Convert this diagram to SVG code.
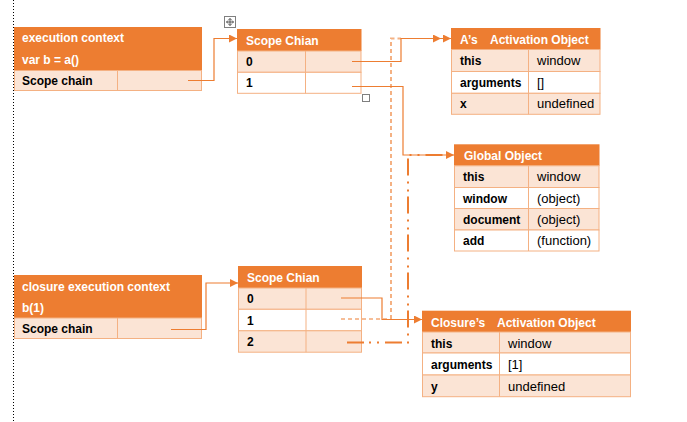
<svg xmlns="http://www.w3.org/2000/svg" width="687" height="422" viewBox="0 0 687 422">
<defs>
<marker id="arr" markerUnits="userSpaceOnUse" markerWidth="9" markerHeight="8" refX="8" refY="4" orient="auto">
<path d="M0,0 L8,4 L0,8 z" fill="#ED7D31"/>
</marker>
<style>
text{font-family:"Liberation Sans",Arial,sans-serif;}
.hd{fill:#ED7D31;}
.pl{fill:#FBE4D5;stroke:#F4B183;stroke-width:1;}
.wh{fill:#FFFFFF;stroke:#F4B183;stroke-width:1;}
.dv{stroke:#F4B183;stroke-width:1;}
.h{fill:#FFFFFF;font-weight:bold;font-size:12px;}
.k{fill:#000000;font-weight:bold;font-size:12px;}
.v{fill:#000000;font-size:13px;}
.c{fill:none;stroke:#ED7D31;stroke-width:1.2;}
</style>
</defs>
<rect width="687" height="422" fill="#FFFFFF"/>
<line x1="13.5" y1="0" x2="13.5" y2="422" stroke="#000" stroke-width="1" stroke-dasharray="1 2"/>

<!-- Word table handles -->
<g id="handles" fill="none" stroke="#7F7F7F" stroke-width="1">
<rect x="224.5" y="16.5" width="11" height="11" fill="#FFFFFF"/>
<path d="M230,18.5 V25.5 M226.5,22 H233.5 M228.5,20 L230,18.5 L231.5,20 M228.5,24 L230,25.5 L231.5,24 M228,20.5 L226.5,22 L228,23.5 M232,20.5 L233.5,22 L232,23.5" stroke="#555"/>
<rect x="362.5" y="94.5" width="7" height="7" fill="#FFFFFF"/>
</g>

<g id="exec-context">
<rect class="hd" x="14" y="27" width="188" height="43"/>
<rect class="pl" x="14.5" y="70.5" width="187" height="20"/>
<line class="dv" x1="117.5" y1="70.5" x2="117.5" y2="90.5"/>
<text class="h" x="22" y="42">execution context</text>
<text class="h" x="22" y="64">var b = a()</text>
<text class="k" x="22" y="85">Scope chain</text>
</g>

<g id="scope-chain-1">
<rect class="hd" x="237" y="29" width="124.5" height="22"/>
<rect class="pl" x="237.5" y="51" width="123.5" height="21.3"/>
<rect class="wh" x="237.5" y="72.3" width="123.5" height="21"/>
<line class="dv" x1="305.5" y1="51" x2="305.5" y2="93.3"/>
<text class="h" x="246" y="45">Scope Chian</text>
<text class="k" x="246" y="66">0</text>
<text class="k" x="246" y="87">1</text>
</g>

<g id="a-activation-object">
<rect class="hd" x="451" y="28" width="149.5" height="21.5"/>
<rect class="pl" x="451.5" y="49.5" width="148.5" height="22"/>
<rect class="wh" x="451.5" y="71.5" width="148.5" height="21.8"/>
<rect class="pl" x="451.5" y="93.3" width="148.5" height="21"/>
<line class="dv" x1="528.5" y1="49.5" x2="528.5" y2="114.3"/>
<text class="h" x="460" y="44">A’s</text>
<text class="h" x="490" y="44">Activation Object</text>
<text class="k" x="460" y="65">this</text><text class="v" x="537" y="65">window</text>
<text class="k" x="460" y="87">arguments</text><text class="v" x="537" y="87">[]</text>
<text class="k" x="460" y="108">x</text><text class="v" x="537" y="108">undefined</text>
</g>

<g id="global-object">
<rect class="hd" x="454" y="144.3" width="145.5" height="21.5"/>
<rect class="pl" x="454.5" y="165.8" width="144.5" height="21.7"/>
<rect class="wh" x="454.5" y="187.5" width="144.5" height="21"/>
<rect class="pl" x="454.5" y="208.5" width="144.5" height="21.5"/>
<rect class="wh" x="454.5" y="230" width="144.5" height="21"/>
<line class="dv" x1="528.5" y1="165.8" x2="528.5" y2="251"/>
<text class="h" x="464" y="160">Global Object</text>
<text class="k" x="463" y="181">this</text><text class="v" x="537" y="181">window</text>
<text class="k" x="463" y="203">window</text><text class="v" x="537" y="203">(object)</text>
<text class="k" x="463" y="224">document</text><text class="v" x="537" y="224">(object)</text>
<text class="k" x="463" y="245">add</text><text class="v" x="537" y="245">(function)</text>
</g>

<g id="closure-exec-context">
<rect class="hd" x="14" y="275" width="188" height="43"/>
<rect class="pl" x="14.5" y="318" width="187" height="20.5"/>
<line class="dv" x1="117.5" y1="318" x2="117.5" y2="338.5"/>
<text class="h" x="22" y="291">closure execution context</text>
<text class="h" x="22" y="312">b(1)</text>
<text class="k" x="22" y="333">Scope chain</text>
</g>

<g id="scope-chain-2">
<rect class="hd" x="238" y="266" width="124" height="22"/>
<rect class="pl" x="238.5" y="288" width="123" height="21.3"/>
<rect class="wh" x="238.5" y="309.3" width="123" height="21.5"/>
<rect class="pl" x="238.5" y="330.8" width="123" height="21.4"/>
<line class="dv" x1="306" y1="288" x2="306" y2="352.2"/>
<text class="h" x="247" y="282">Scope Chian</text>
<text class="k" x="247" y="303">0</text>
<text class="k" x="247" y="325">1</text>
<text class="k" x="247" y="346">2</text>
</g>

<g id="closure-activation-object">
<rect class="hd" x="422" y="310.7" width="209" height="21.3"/>
<rect class="pl" x="422.5" y="332" width="208" height="21"/>
<rect class="wh" x="422.5" y="353" width="208" height="22"/>
<rect class="pl" x="422.5" y="375" width="208" height="21.7"/>
<line class="dv" x1="499.5" y1="332" x2="499.5" y2="396.7"/>
<text class="h" x="431" y="327">Closure’s</text>
<text class="h" x="497" y="327">Activation Object</text>
<text class="k" x="431" y="348">this</text><text class="v" x="508" y="348">window</text>
<text class="k" x="431" y="369">arguments</text><text class="v" x="508" y="369">[1]</text>
<text class="k" x="431" y="391">y</text><text class="v" x="508" y="391">undefined</text>
</g>

<g id="connectors">
<path d="M341,319 H391" fill="none" stroke="#ED7D31" stroke-width="1" stroke-dasharray="4 3"/>
<path d="M391,319 V38.5 H401" fill="none" stroke="#F4B183" stroke-width="2" stroke-dasharray="4 3"/>
<path d="M401,38.5 H441" fill="none" stroke="#ED7D31" stroke-width="1.2" marker-end="url(#arr)"/>
<path d="M347,342.5 H408 V155 H452" fill="none" stroke="#ED7D31" stroke-width="2" stroke-dasharray="17 5 2 6 2 6"/>
<path class="c" d="M188,80.5 H214 V38.5 H237" marker-end="url(#arr)"/>
<path class="c" d="M352,61.5 H401 V38.5 H451" marker-end="url(#arr)"/>
<path class="c" d="M352,86.5 H403 V155 H454" marker-end="url(#arr)"/>
<path class="c" d="M171,329.5 H206 V283 H238" marker-end="url(#arr)"/>
<path class="c" d="M341,298 H382 V319.5 H422" marker-end="url(#arr)"/>
</g>
</svg>
